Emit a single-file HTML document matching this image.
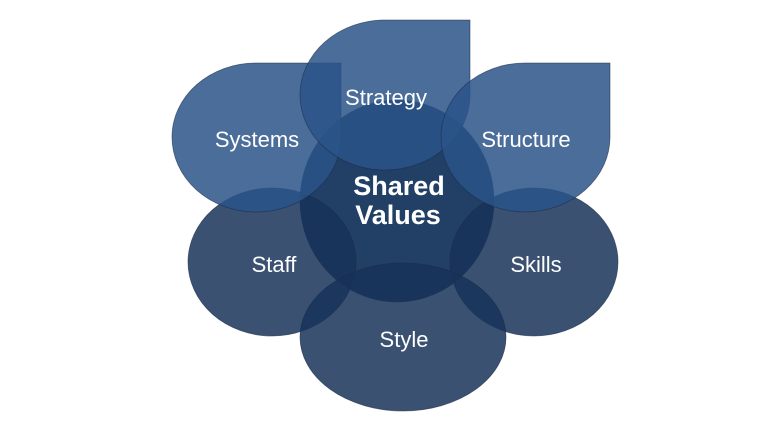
<!DOCTYPE html>
<html><head><meta charset="utf-8"><style>
html,body{margin:0;padding:0;background:#fff;width:782px;height:432px;overflow:hidden}
text{font-family:"Liberation Sans",sans-serif;fill:#fff}
</style></head><body>
<svg width="782" height="432" viewBox="0 0 782 432">
<g stroke="#1a2c44" stroke-width="0.8" stroke-opacity="0.6">
<ellipse cx="397" cy="201" rx="97" ry="101" fill="#223f66"/>
<g fill="#173359" fill-opacity="0.85">
<ellipse cx="272" cy="262" rx="84" ry="74"/>
<ellipse cx="534" cy="262" rx="84" ry="74"/>
<ellipse cx="403" cy="337" rx="103" ry="74"/>
</g>
<g fill="#2a5388" fill-opacity="0.85">
<path d="M256,63 L341,63 L341,137 A85,75 0 0 1 256,212 A84,75 0 0 1 172,137 A84,74 0 0 1 256,63 Z"/>
<path d="M385,20 L470,20 L470,95 A85,75 0 0 1 385,170 A85,75 0 0 1 300,95 A85,75 0 0 1 385,20 Z"/>
<path d="M525,63 L610,63 L610,137 A85,75 0 0 1 525,212 A84,75 0 0 1 441,137 A84,74 0 0 1 525,63 Z"/>
</g>
</g>
<g font-size="22" text-anchor="middle">
<text x="386" y="105">Strategy</text>
<text x="257" y="147">Systems</text>
<text x="526" y="147">Structure</text>
<text x="274" y="272">Staff</text>
<text x="536" y="272">Skills</text>
<text x="404" y="347">Style</text>
</g>
<g font-size="27" font-weight="bold" text-anchor="middle">
<text x="399" y="195">Shared</text>
<text x="398" y="224">Values</text>
</g>
</svg>
</body></html>
